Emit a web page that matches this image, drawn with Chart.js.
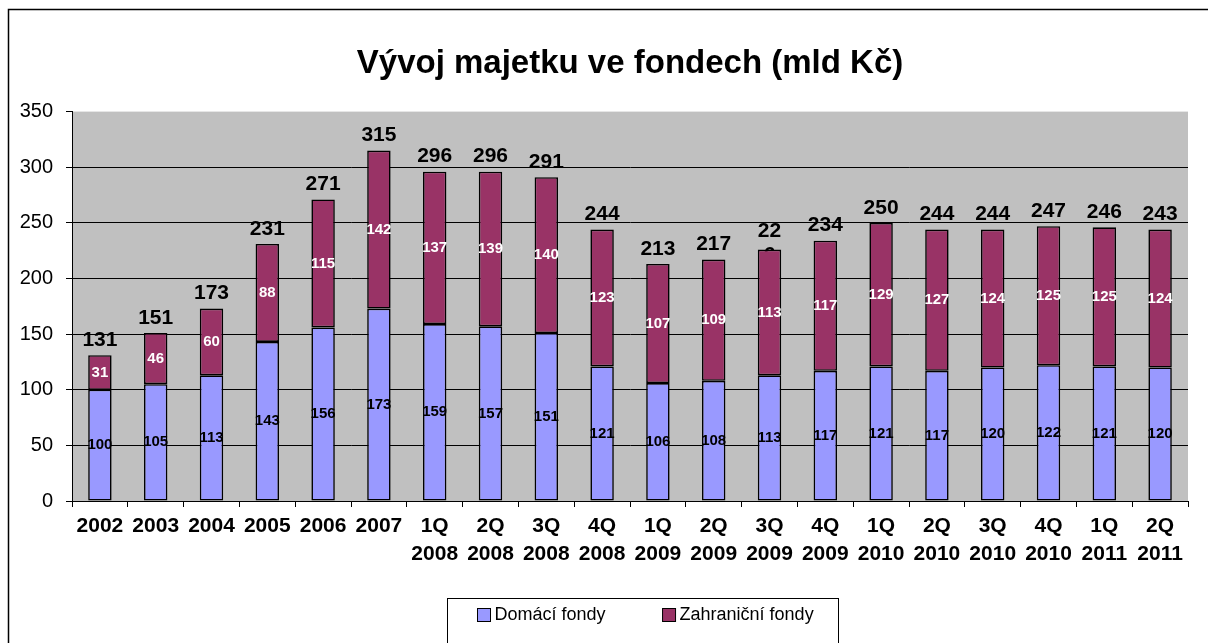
<!DOCTYPE html>
<html lang="cs">
<head>
<meta charset="UTF-8">
<title>Vývoj majetku ve fondech</title>
<script src="https://cdn.jsdelivr.net/npm/chart.js"></script>
<style>
    body { margin: 0; background: #fff; }
    #wrap { width: 1208px; height: 643px; position: relative; }
</style>
</head>
<body>
<div id="wrap"><canvas id="chart"></canvas></div>
<script>
// data
var periods = ['2002', '2003', '2004', '2005', '2006', '2007',
    '1Q 2008', '2Q 2008', '3Q 2008', '4Q 2008',
    '1Q 2009', '2Q 2009', '3Q 2009', '4Q 2009',
    '1Q 2010', '2Q 2010', '3Q 2010', '4Q 2010',
    '1Q 2011', '2Q 2011'];
var domestic = [100, 105, 113, 143, 156, 173, 159, 157, 151, 121, 106, 108, 113, 117, 121, 117, 120, 122, 121, 120];
var foreign = [31, 46, 60, 88, 115, 142, 137, 139, 140, 123, 107, 109, 113, 117, 129, 127, 124, 125, 125, 124];
var totals = [131, 151, 173, 231, 271, 315, 296, 296, 291, 244, 213, 217, 226, 234, 250, 244, 244, 247, 246, 243];
var yTicks = [0, 50, 100, 150, 200, 250, 300, 350];

var FONT = 'Arial, "Liberation Sans", sans-serif';

// gray plot area, outer frame and the boxed legend at the bottom
var backdrop = {
    id: 'backdrop',
    beforeDraw: function (chart) {
        var c = chart.ctx, a = chart.chartArea;
        c.save();
        c.fillStyle = '#fff';
        c.fillRect(0, 0, chart.width, chart.height);
        c.fillStyle = '#C0C0C0';
        c.fillRect(a.left, a.top, a.right - a.left, a.bottom - a.top);
        c.strokeStyle = '#000';
        c.lineWidth = 1.5;
        c.strokeRect(8.5, 9.5, chart.width + 20, chart.height + 20);
        c.restore();
    },
    afterDraw: function (chart) {
        var c = chart.ctx;
        var items = chart.data.datasets.map(function (ds) {
            return { text: ds.label, color: ds.backgroundColor };
        });
        c.save();
        c.font = '18px ' + FONT;
        c.textBaseline = 'middle';
        var box = 13, gapText = 4, gapItem = 57, padL = 30, padR = 25;
        var total = 0;
        items.forEach(function (it, i) {
            it.w = c.measureText(it.text).width;
            total += box + gapText + it.w + (i ? gapItem : 0);
        });
        var frameW = total + padL + padR;
        var frameL = Math.round(643 - frameW / 2) + 0.5;
        var frameT = chart.chartArea.bottom + 97.5;
        c.strokeStyle = '#000';
        c.lineWidth = 1;
        c.strokeRect(frameL, frameT, Math.round(frameW), 60);
        var x = frameL + padL, cy = frameT + 17;
        items.forEach(function (it) {
            c.fillStyle = it.color;
            c.fillRect(x, cy - 7, box, box);
            c.strokeRect(x, cy - 7, box, box);
            c.fillStyle = '#000';
            c.fillText(it.text, x + box + gapText, cy);
            x += box + gapText + it.w + gapItem;
        });
        c.restore();
    }
};

// values inside segments and totals above the stack
var labelsPlugin = {
    id: 'valueLabels',
    beforeDatasetsDraw: function (chart) {
        // totals go under the bars, so a wrapped label gets hidden like in Excel
        var c = chart.ctx;
        var top = chart.getDatasetMeta(1).data;
        c.save();
        c.font = 'bold 21px ' + FONT;
        c.fillStyle = '#000';
        c.textAlign = 'center';
        c.textBaseline = 'middle';
        top.forEach(function (bar, i) {
            var txt = String(totals[i]);
            if (i === 12) {
                c.fillText(txt.slice(0, 2), bar.x, bar.y - 18);
                c.fillText(txt.slice(2), bar.x, bar.y + 6);
            } else {
                c.fillText(txt, bar.x, bar.y - 15);
            }
        });
        c.restore();
    },
    afterDatasetsDraw: function (chart) {
        var c = chart.ctx;
        c.save();
        c.font = 'bold 15px ' + FONT;
        c.textAlign = 'center';
        c.textBaseline = 'middle';
        chart.data.datasets.forEach(function (ds, d) {
            c.fillStyle = d === 0 ? '#000' : '#fff';
            chart.getDatasetMeta(d).data.forEach(function (bar, i) {
                c.fillText(String(ds.data[i]), bar.x, (bar.y + bar.base) / 2);
            });
        });
        c.restore();
    }
};

new Chart(document.getElementById('chart'), {
    type: 'bar',
    data: {
        labels: periods.map(function (p) { return p.split(' '); }),
        datasets: [{
            label: 'Domácí fondy',
            data: domestic,
            backgroundColor: '#9999FF',
            borderColor: '#000',
            borderWidth: 1.6,
            borderSkipped: false
        }, {
            label: 'Zahraniční fondy',
            data: foreign,
            backgroundColor: '#993366',
            borderColor: '#000',
            borderWidth: 1.6,
            borderSkipped: false
        }]
    },
    options: {
        responsive: true,
        maintainAspectRatio: false,
        animation: false,
        layout: { padding: { left: 8, right: 20, top: 0, bottom: 47 } },
        datasets: { bar: { barPercentage: 0.42, categoryPercentage: 1 } },
        plugins: {
            title: {
                display: true,
                fullSize: false,
                text: 'Vývoj majetku ve fondech (mld Kč)',
                color: '#000',
                font: { family: FONT, size: 33, weight: 'bold' },
                padding: { top: 44, bottom: 28 }
            },
            legend: { display: false },
            tooltip: { enabled: false }
        },
        scales: {
            x: {
                stacked: true,
                grid: { drawOnChartArea: false, drawTicks: true, tickLength: 6, color: '#000' },
                border: { color: '#000', width: 1 },
                ticks: {
                    color: '#000',
                    autoSkip: false,
                    maxRotation: 0,
                    padding: 6,
                    font: { family: FONT, size: 21, weight: 'bold', lineHeight: 1.3 }
                },
                afterFit: function (s) { s.height = 95; }
            },
            y: {
                stacked: true,
                min: 0,
                max: 350,
                afterBuildTicks: function (s) {
                    s.ticks = yTicks.map(function (v) { return { value: v }; });
                },
                grid: {
                    color: function (ctx) {
                        return ctx.tick && ctx.tick.value === 350 ? 'rgba(0,0,0,0)' : '#000';
                    },
                    tickColor: '#000',
                    tickLength: 6,
                    lineWidth: 1
                },
                border: { color: '#000', width: 1 },
                ticks: {
                    color: '#000',
                    padding: 13,
                    font: { family: FONT, size: 20 }
                },
                afterFit: function (s) { s.width = 64; }
            }
        }
    },
    plugins: [backdrop, labelsPlugin]
});
</script>
</body>
</html>
